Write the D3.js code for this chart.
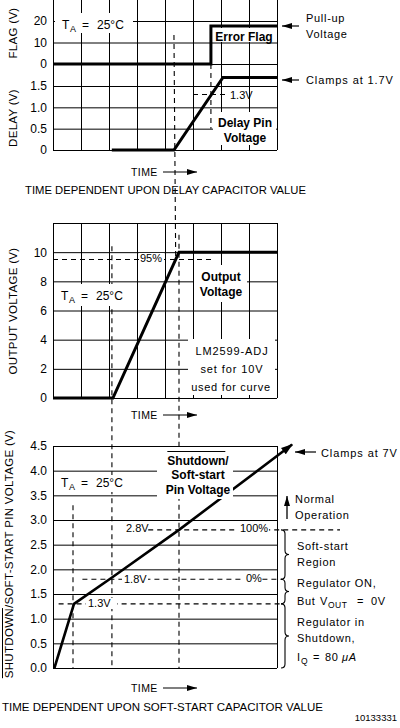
<!DOCTYPE html>
<html><head><meta charset="utf-8">
<script src="https://cdn.jsdelivr.net/npm/d3@7"></script>
<style>body{margin:0;background:#fff}svg{display:block}</style>
</head><body>
<script>
// ---------------- data ----------------
const timeTicks = [0,1,2,3,4,5,6,7,8];
const flagTicks = [0,10,20];
const delayTicks = [0,0.5,1.0,1.5];
const outTicks = [0,2,4,6,8,10];
const ssTicks = [0,0.5,1.0,1.5,2.0,2.5,3.0,3.5,4.0,4.5];

const flagT  = [0, 5.64, 5.64, 8];
const flagV  = [0, 0, 17.7, 17.7];
const delayT = [2.1, 4.32, 6.07, 8];
const delayV = [0, 0, 1.7, 1.7];
const outT   = [0, 2.14, 4.5, 8];
const outV   = [0, 0, 10, 10];
const ssT    = [0.05, 0.75, 2.12, 4.5, 8.54];
const ssV    = [0, 1.3, 1.84, 2.8, 4.53];

// key levels
const delayThreshold = 1.3;
const outPct = 9.5;
const ssLevels = [1.3, 1.8, 2.8];

// ---------------- setup ----------------
const svg = d3.select("body").append("svg").attr("width",400).attr("height",728);
const SANS = "'Liberation Sans', Arial, sans-serif";

const x  = d3.scaleLinear().domain([0,8]).range([53,277]);
const yF = d3.scaleLinear().domain([0,20]).range([64,21]);
const yD = d3.scaleLinear().domain([0,1.5]).range([150,86]);
const yO = d3.scaleLinear().domain([0,12]).range([398,223]);
const yS = d3.scaleLinear().domain([0,4.5]).range([668,446]);
const plotW = x(8) - x(0);

const gGrid = svg.append("g");
const gDash = svg.append("g");
const gData = svg.append("g");
const gBox  = svg.append("g");
const gText = svg.append("g");

function styleAxis(g){
  g.select(".domain").remove();
  g.selectAll(".tick line").attr("stroke","#000").attr("stroke-width",1);
  g.selectAll(".tick text").attr("font-family",SANS).attr("font-size",12).attr("fill","#000");
}
function vgrid(y0, y1){
  const g = gGrid.append("g").attr("transform",`translate(0,${y1})`)
    .call(d3.axisBottom(x).tickValues(timeTicks).tickSize(-(y1-y0)).tickFormat(""));
  styleAxis(g);
}
function hgrid(scale, ticks, fmt){
  const g = gGrid.append("g").attr("transform",`translate(${x(0)},0)`)
    .call(d3.axisLeft(scale).tickValues(ticks).tickSize(-plotW).tickPadding(6).tickFormat(fmt));
  styleAxis(g);
}
function hline(g, x1, x2, y, w=1){
  g.append("line").attr("x1",x1).attr("x2",x2).attr("y1",Math.round(y)+0.5).attr("y2",Math.round(y)+0.5)
   .attr("stroke","#000").attr("stroke-width",w);
}
function vline(g, xx, y1, y2, w=1){
  g.append("line").attr("x1",Math.round(xx)+0.5).attr("x2",Math.round(xx)+0.5).attr("y1",y1).attr("y2",y2)
   .attr("stroke","#000").attr("stroke-width",w);
}
function dash(x1,y1,x2,y2){
  gDash.append("line").attr("x1",x1).attr("y1",y1).attr("x2",x2).attr("y2",y2)
   .attr("stroke","#000").attr("stroke-width",1.1).attr("stroke-dasharray","5,4");
}
function box(x0,y0,w,h){
  gBox.append("rect").attr("x",x0).attr("y",y0).attr("width",w).attr("height",h).attr("fill","#fff");
}
function txt(xx,yy,s,o={}){
  const t = gText.append("text").attr("x",xx).attr("y",yy).text(s)
    .attr("font-family",o.family||SANS).attr("font-size",o.size||11)
    .attr("font-weight",o.weight||"normal").attr("text-anchor",o.anchor||"start").attr("fill","#000");
  if(o.ls) t.attr("letter-spacing",o.ls);
  if(o.len) t.attr("textLength",o.len).attr("lengthAdjust","spacingAndGlyphs");
  return t;
}
const fmt1 = d => d===0 ? "0" : d.toFixed(1);

// ---------------- grids ----------------
// top
vgrid(0,150);
hgrid(yF, flagTicks, d3.format("d"));
hgrid(yD, delayTicks, fmt1);
// middle
vgrid(223,398);
hgrid(yO, outTicks, d3.format("d"));
hline(gGrid, x(0), x(8), yO(12));
// bottom
hgrid(yS, ssTicks, d => d.toFixed(1));
vline(gGrid, x(0), yS(4.5), yS(0));
vline(gGrid, x(8), yS(4.5), yS(0));

// ---------------- dashed guides ----------------
function interp(T,V,v){ // time at which series reaches v on its rising segment
  for(let i=1;i<T.length;i++){ if(V[i]>=v && V[i-1]<v) return T[i-1]+(v-V[i-1])/(V[i]-V[i-1])*(T[i]-T[i-1]); }
  return T[T.length-1];
}
const tDelayStart = delayT[1];
const tOut95 = interp(outT,outV,outPct);
const tOutRise = outT[1];
const tOutFull = outT[2];
const tKnee = ssT[1];
const tFlag = flagT[1];
// top chart
dash(x(tDelayStart), yF(13.5), x(tOut95), yO(outPct));
dash(x(tFlag), yF(0), x(tFlag), yD(0.5));
dash(x(5.0), yD(delayThreshold), x(6.25), yD(delayThreshold));
// middle
dash(x(0), yO(outPct), x(5.7), yO(outPct));
dash(x(tOutFull), yO(11.2), x(tOutFull), yS(0));
dash(x(tOutRise)-1, yO(10.4), x(tOutRise)-1, yS(0));
// bottom
dash(x(tKnee)-1, yS(3.3), x(tKnee)-1, yS(0));
dash(x(0.2), yS(ssLevels[0]), x(8.18), yS(ssLevels[0]));
dash(x(1.05), yS(ssLevels[1]), x(8.18), yS(ssLevels[1]));
dash(x(3.4), yS(ssLevels[2]), x(10.25), yS(ssLevels[2]));

// ---------------- data lines ----------------
const line = (ys) => d3.line().x(d=>x(d[0])).y(d=>ys(d[1]));
gData.append("path").datum(d3.zip(flagT,flagV)).attr("d",line(yF))
  .attr("fill","none").attr("stroke","#000").attr("stroke-width",3);
gData.append("path").datum(d3.zip(delayT,delayV)).attr("d",line(yD))
  .attr("fill","none").attr("stroke","#000").attr("stroke-width",3);
gData.append("path").datum(d3.zip(outT,outV)).attr("d",line(yO))
  .attr("fill","none").attr("stroke","#000").attr("stroke-width",3);

const defs = svg.append("defs");
defs.append("marker").attr("id","ah").attr("viewBox","0 0 10 6").attr("refX",10).attr("refY",3)
  .attr("markerWidth",10).attr("markerHeight",6).attr("markerUnits","userSpaceOnUse").attr("orient","auto")
  .append("path").attr("d","M0,0 L10,3 L0,6 Z").attr("fill","#000");
defs.append("marker").attr("id","ahBig").attr("viewBox","0 0 12 8").attr("refX",11).attr("refY",4)
  .attr("markerWidth",12).attr("markerHeight",8).attr("markerUnits","userSpaceOnUse").attr("orient","auto")
  .append("path").attr("d","M0,0 L12,4 L0,8 Z").attr("fill","#000");

gData.append("path").datum(d3.zip(ssT,ssV)).attr("d",line(yS))
  .attr("fill","none").attr("stroke","#000").attr("stroke-width",2.6).attr("marker-end","url(#ahBig)");

// ---------------- label boxes ----------------
box(55,13,78,20);      // T_A top
box(213,28,63,14);     // Error Flag
box(213,112,63,33);    // Delay Pin Voltage
box(229,89,20,11);     // 1.3V top
box(55,284,73,22);     // T_A middle
box(194,265,53,37);    // Output Voltage
box(188,339,87,56);    // LM2599
box(139,253,25,11);    // 95%
box(157,450,76,49);    // Shutdown label
box(55,475,100,17);    // T_A bottom
box(86,598,31,11);     // 1.3V
box(122,573,26,11);    // 1.8V
box(124,523,24,11);    // 2.8V
box(238,522,31,11);    // 100%
box(244,573,15,11);    // 0%

// ---------------- texts ----------------
function tA(x0,yb){
  txt(x0,yb,"T",{size:12});
  txt(x0+8,yb+3,"A",{size:9});
  txt(x0+20,yb,"=",{size:12});
  txt(x0+35,yb,"25°C",{size:12});
}
tA(62,29); tA(61,300); tA(61,487);

txt(244,41,"Error Flag",{size:12,weight:"bold",anchor:"middle"});
txt(245,127,"Delay Pin",{size:12,weight:"bold",anchor:"middle"});
txt(245,142,"Voltage",{size:12,weight:"bold",anchor:"middle"});
txt(221,281,"Output",{size:12,weight:"bold",anchor:"middle"});
txt(221,296,"Voltage",{size:12,weight:"bold",anchor:"middle"});
txt(198,465,"Shutdown/",{size:12,weight:"bold",anchor:"middle"});
txt(198,479,"Soft-start",{size:12,weight:"bold",anchor:"middle"});
txt(198,494,"Pin Voltage",{size:12,weight:"bold",anchor:"middle"});
{ // overline over "Shutdown"
  const t = gText.select("text:nth-last-child(3)");
  const node = t.node();
  const full = node.getComputedTextLength();
  const sub = node.getSubStringLength(0,8);
  const x0 = 198 - full/2;
  hline(gText, x0, x0+sub, 451, 1);
}

txt(230,99,"1.3V",{size:11});
txt(140,262,"95%",{size:11});
txt(88,607,"1.3V",{size:11});
txt(124,583,"1.8V",{size:11});
txt(126,532,"2.8V",{size:11});
txt(240,532,"100%",{size:11});
txt(246,582,"0%",{size:11});

txt(232,355,"LM2599-ADJ",{size:11,anchor:"middle",ls:0.9});
txt(232,373,"set for 10V",{size:11,anchor:"middle",ls:0.9});
txt(231,391,"used for curve",{size:11,anchor:"middle",ls:0.7});

// right annotations
const A = {size:11, ls:0.7};
function arrowL(x1,x2,y){
  gText.append("line").attr("x1",x1).attr("x2",x2).attr("y1",y).attr("y2",y)
    .attr("stroke","#000").attr("stroke-width",1.2).attr("marker-end","url(#ah)");
}
arrowL(299,282,26);
txt(306,22,"Pull-up",A);
txt(306,38,"Voltage",A);
arrowL(299,282,80);
txt(306,84,"Clamps at 1.7V",{size:11,ls:0.9});
arrowL(316,295,452);
txt(321,457,"Clamps at 7V",{size:11,ls:0.9});
gText.append("line").attr("x1",287).attr("x2",287).attr("y1",519).attr("y2",496)
  .attr("stroke","#000").attr("stroke-width",1.3).attr("marker-end","url(#ah)");
txt(295,503,"Normal",A);
txt(295,519,"Operation",A);

function brace(y1,y2,ym){
  const x0=281,x1=285,x2=289,r=4;
  gText.append("path").attr("d",
    `M${x0},${y1} Q${x1},${y1} ${x1},${y1+r} L${x1},${ym-r} Q${x1},${ym} ${x2},${ym} Q${x1},${ym} ${x1},${ym+r} L${x1},${y2-r} Q${x1},${y2} ${x0},${y2}`)
    .attr("fill","none").attr("stroke","#000").attr("stroke-width",1.1);
}
brace(yS(2.8),yS(1.8),(yS(2.8)+yS(1.8))/2);
brace(yS(1.8),yS(1.3),(yS(1.8)+yS(1.3))/2);
brace(yS(1.3),yS(0),yS(0.65));

txt(297,550,"Soft-start",A);
txt(297,566,"Region",A);
txt(297,587,"Regulator ON,",A);
txt(297,605,"But",A);
txt(320,605,"V",A);
txt(328,608,"OUT",{size:8.5,ls:0.5});
txt(357,605,"=",A);
txt(371,605,"0V",A);
txt(297,626,"Regulator in",A);
txt(297,642,"Shutdown,",A);
txt(297,661,"I",A);
txt(301,664,"Q",{size:8.5});
txt(313,661,"=",A);
txt(325,661,"80",A);
txt(342,661,"μA",{size:11,ls:0.7}).attr("font-style","italic");

// TIME arrows
function timeLabel(yc){
  txt(131,yc+4,"TIME",{size:10.5,ls:0.4});
  gText.append("line").attr("x1",163).attr("x2",197).attr("y1",yc).attr("y2",yc)
    .attr("stroke","#000").attr("stroke-width",1.2).attr("marker-end","url(#ah)");
}
timeLabel(172); timeLabel(415); timeLabel(688);

txt(25,194,"TIME DEPENDENT UPON DELAY CAPACITOR VALUE",{size:11.5,len:281});
txt(2,711,"TIME DEPENDENT UPON SOFT-START CAPACITOR VALUE",{size:11.5,len:321});
txt(397,721,"10133331",{size:9.5,anchor:"end"});

// y-axis titles
function ytitle(cx,cy,s){
  return gText.append("text").attr("transform",`translate(${cx},${cy}) rotate(-90)`)
    .attr("text-anchor","middle").attr("font-family",SANS).attr("font-size",11.5)
    .attr("letter-spacing",0.3).attr("fill","#000").text(s);
}
ytitle(17,33,"FLAG (V)");
ytitle(17,118,"DELAY (V)");
ytitle(17,311,"OUTPUT VOLTAGE (V)");
{
  const t = ytitle(13,554,"SHUTDOWN/SOFT-START PIN VOLTAGE (V)");
  const node = t.node();
  const full = node.getComputedTextLength();
  const sub = node.getSubStringLength(0,8);
  const ys = 554 + full/2;
  gText.append("line").attr("x1",2.5).attr("x2",2.5).attr("y1",ys).attr("y2",ys-sub)
    .attr("stroke","#000").attr("stroke-width",1);
}
</script>
</body></html>
